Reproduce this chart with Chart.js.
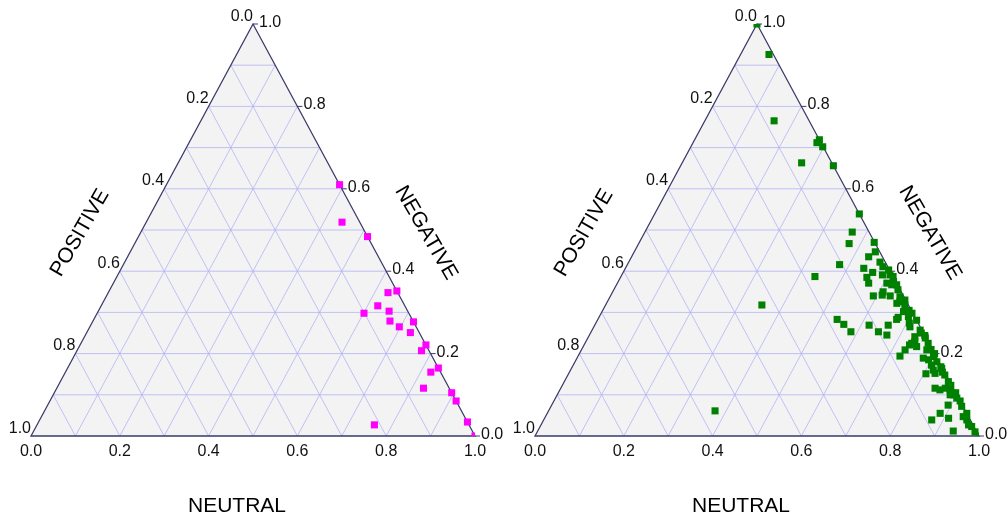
<!DOCTYPE html>
<html>
<head>
<meta charset="utf-8">
<script src="https://cdn.jsdelivr.net/npm/chart.js@4/dist/chart.umd.min.js"></script>
<style>
  html, body { margin: 0; padding: 0; background: #fff; }
  .pane { position: absolute; top: 0; width: 503px; height: 521px; }
</style>
</head>
<body>
<div class="pane" style="left:0"><canvas id="leftChart" width="503" height="521"></canvas></div>
<div class="pane" style="left:504px"><canvas id="rightChart" width="503" height="521"></canvas></div>
<script>
// ternary data: neutral + negative, positive is the rest (1 - neutral - negative)
const neutralLeft = [0.39, 0.441, 0.516, 0.63, 0.648, 0.623, 0.601, 0.655, 0.669, 0.723, 0.697,
  0.729, 0.779, 0.776, 0.835, 0.823, 0.826, 0.895, 0.915, 0.76, 0.966, 1.0];
const negativeLeft = [0.61, 0.519, 0.484, 0.348, 0.352, 0.316, 0.298, 0.303, 0.279, 0.277, 0.265,
  0.251, 0.221, 0.207, 0.165, 0.155, 0.116, 0.105, 0.085, 0.027, 0.034, 0.0];

const neutralRight = [0.0, 0.064, 0.156, 0.279, 0.281, 0.297, 0.269, 0.344, 0.461, 0.467, 0.474,
  0.529, 0.543, 0.534, 0.478, 0.437, 0.566, 0.578, 0.537, 0.562, 0.595, 0.604, 0.587, 0.613,
  0.555, 0.566, 0.607, 0.62, 0.631, 0.592, 0.611, 0.63, 0.653, 0.609, 0.654, 0.659, 0.674,
  0.679, 0.674, 0.673, 0.696, 0.706, 0.712, 0.719, 0.539, 0.56, 0.585, 0.618, 0.647, 0.661,
  0.67, 0.739, 0.756, 0.735, 0.741, 0.736, 0.751, 0.733, 0.729, 0.725, 0.773, 0.778, 0.78,
  0.794, 0.801, 0.8, 0.807, 0.817, 0.805, 0.825, 0.834, 0.849, 0.865, 0.843, 0.856, 0.866,
  0.879, 0.892, 0.904, 0.885, 0.893, 0.885, 0.874, 0.91, 0.936, 0.941, 0.953, 0.963, 0.972,
  0.986, 1.0, 0.352, 0.375, 0.62, 0.64, 0.668, 0.69, 0.7, 0.745, 0.76, 0.787, 0.815, 0.83,
  0.84, 0.875, 0.895, 0.915, 0.925, 0.945];
const negativeRight = [1.0, 0.926, 0.765, 0.712, 0.719, 0.702, 0.663, 0.656, 0.539, 0.495, 0.467,
  0.47, 0.447, 0.435, 0.416, 0.387, 0.422, 0.411, 0.407, 0.397, 0.403, 0.391, 0.391, 0.387,
  0.385, 0.371, 0.371, 0.367, 0.367, 0.34, 0.342, 0.34, 0.338, 0.35, 0.322, 0.326, 0.318,
  0.302, 0.288, 0.283, 0.29, 0.274, 0.265, 0.281, 0.283, 0.271, 0.253, 0.269, 0.253, 0.269,
  0.245, 0.257, 0.244, 0.241, 0.229, 0.225, 0.217, 0.221, 0.209, 0.194, 0.225, 0.209, 0.189,
  0.185, 0.193, 0.2, 0.172, 0.16, 0.151, 0.152, 0.164, 0.148, 0.132, 0.116, 0.112, 0.116,
  0.112, 0.1, 0.092, 0.1, 0.075, 0.055, 0.039, 0.043, 0.012, 0.047, 0.039, 0.027, 0.023,
  0.01, 0.0, 0.318, 0.061, 0.375, 0.355, 0.33, 0.305, 0.298, 0.25, 0.238, 0.21, 0.18, 0.168,
  0.155, 0.123, 0.105, 0.085, 0.072, 0.055];

const tickValues = [0, 0.2, 0.4, 0.6, 0.8, 1.0];
const tickLabels = ["0.0", "0.2", "0.4", "0.6", "0.8", "1.0"];
const axisTitles = { bottom: "NEUTRAL", left: "POSITIVE", right: "NEGATIVE" };

const tickFont = '16px "Liberation Sans", Arial, sans-serif';
const titleFont = '21px "Liberation Sans", Arial, sans-serif';

// x = neutral + negative/2, y = negative
function toXY(neu, neg) {
  return neu.map((n, i) => ({ x: n + neg[i] / 2, y: neg[i] }));
}

const ternaryFrame = {
  id: "ternaryFrame",
  beforeDatasetsDraw(chart) {
    const { ctx, scales: { x, y } } = chart;
    const P = (n, g) => [x.getPixelForValue(n + g / 2), y.getPixelForValue(g)];
    const A = P(0, 1), B = P(0, 0), C = P(1, 0);
    ctx.save();
    ctx.beginPath();
    ctx.moveTo(...A); ctx.lineTo(...B); ctx.lineTo(...C); ctx.closePath();
    ctx.fillStyle = "#f3f3f3";
    ctx.fill();

    ctx.strokeStyle = "rgba(175,175,245,0.75)";
    ctx.lineWidth = 1;
    for (let k = 1; k < 10; k++) {
      const v = k / 10;
      const lines = [
        [P(0, v), P(1 - v, v)],       // negative
        [P(v, 0), P(v, 1 - v)],       // neutral
        [P(1 - v, 0), P(0, 1 - v)],   // positive
      ];
      lines.forEach(([p1, p2]) => {
        ctx.beginPath();
        ctx.moveTo(...p1); ctx.lineTo(...p2);
        ctx.stroke();
      });
    }

    ctx.strokeStyle = "#3a3a6a";
    ctx.lineWidth = 1.3;
    ctx.beginPath();
    ctx.moveTo(...A); ctx.lineTo(...B); ctx.lineTo(...C); ctx.closePath();
    ctx.stroke();

    // small ticks on the negative axis
    ctx.lineWidth = 1;
    tickValues.forEach((v) => {
      const [px, py] = P(1 - v, v);
      ctx.beginPath();
      ctx.moveTo(px, py); ctx.lineTo(px + 5, py);
      ctx.stroke();
    });
    ctx.restore();
  },
  afterDraw(chart) {
    const { ctx, scales: { x, y } } = chart;
    const P = (n, g) => [x.getPixelForValue(n + g / 2), y.getPixelForValue(g)];
    ctx.save();
    ctx.fillStyle = "#111";
    ctx.font = tickFont;
    tickValues.forEach((v, i) => {
      // neutral (bottom)
      let [px, py] = P(v, 0);
      ctx.textAlign = "center";
      ctx.textBaseline = "alphabetic";
      ctx.fillText(tickLabels[i], px, py + 20);
      // positive (left edge)
      [px, py] = P(0, 1 - v);
      ctx.textAlign = "right";
      ctx.fillText(tickLabels[i], px, py - 3.5);
      // negative (right edge)
      [px, py] = P(1 - v, v);
      ctx.textAlign = "left";
      ctx.fillText(tickLabels[i], px + 6, py + 3);
    });

    ctx.fillStyle = "#000";
    ctx.font = titleFont;
    ctx.textAlign = "center";
    ctx.textBaseline = "middle";
    ctx.fillText(axisTitles.bottom, 237, 506);

    ctx.save();
    ctx.translate(80, 233);
    ctx.rotate(-Math.PI / 3);
    ctx.fillText(axisTitles.left, 0, 0);
    ctx.restore();

    ctx.save();
    ctx.translate(426, 233);
    ctx.rotate(Math.PI / 3);
    ctx.fillText(axisTitles.right, 0, 0);
    ctx.restore();
    ctx.restore();
  },
};

function makeTernary(id, neu, neg, color) {
  const ctx = document.getElementById(id).getContext("2d");
  return new Chart(ctx, {
    type: "scatter",
    data: {
      datasets: [{
        data: toXY(neu, neg),
        pointStyle: "rect",
        pointRadius: 5,
        pointHoverRadius: 5,
        backgroundColor: color,
        borderWidth: 0,
      }],
    },
    options: {
      responsive: false,
      animation: false,
      layout: { padding: { left: 31, right: 28, top: 24, bottom: 85 } },
      scales: {
        x: { type: "linear", min: 0, max: 1, display: false },
        y: { type: "linear", min: 0, max: 1, display: false },
      },
      plugins: { legend: { display: false }, tooltip: { enabled: false } },
    },
    plugins: [ternaryFrame],
  });
}

makeTernary("leftChart", neutralLeft, negativeLeft, "#ff00ff");
makeTernary("rightChart", neutralRight, negativeRight, "#008000");
</script>
</body>
</html>
